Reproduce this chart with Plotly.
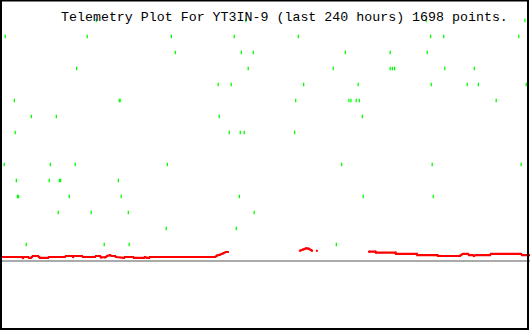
import plotly.graph_objects as go

# ---- data (hours since start of 240 h window, telemetry value) ----
title_text = "Telemetry Plot For YT3IN-9 (last 240 hours) 1698 points."

green_x = [
    43.6, 111.3, 193.0, 237.7,                                   # 15
    2.4, 39.5, 77.6, 106.1, 135.1, 195.0, 200.9, 234.9,         # 14
    79.4, 109.3, 114.7, 156.4, 176.7, 193.5,                    # 13
    34.7, 112.4, 150.9, 176.7, 177.7, 178.7, 201.4, 214.8,      # 12
    98.8, 104.7, 137.5, 162.2, 195.3, 211.6, 216.6, 238.3,      # 11
    6.5, 54.0, 54.4, 133.9, 158.0, 158.9, 161.3, 162.7, 224.7,  # 10
    14.2, 25.5, 99.3, 164.1,                                    # 9
    6.9, 103.8, 108.8, 110.6, 133.4,                            # 8
    1.9, 22.8, 34.1, 75.8, 154.7, 195.7, 236.0,                 # 6
    7.4, 22.3, 26.9, 27.4, 53.6,                                # 5
    0.6, 7.9, 8.4, 31.4, 54.9, 108.4, 164.5, 196.2,             # 4
    26.4, 41.3, 58.1, 115.1,                                    # 3
    75.3, 107.0,                                                # 2
    11.9, 47.2, 58.5, 152.3,                                    # 1
]
green_y = (
    [15] * 4 + [14] * 8 + [13] * 6 + [12] * 8 + [11] * 8 + [10] * 9 +
    [9] * 4 + [8] * 5 + [6] * 7 + [5] * 5 + [4] * 8 + [3] * 4 + [2] * 2 + [1] * 4
)

red_x = [
    0.0, 10.0, 10.4, 10.9, 12.7, 13.1, 14.0, 14.5, 14.9, 17.2, 17.7, 18.1,
    21.7, 22.2, 29.4, 29.9, 32.6, 33.1, 33.5, 37.1, 37.6, 43.0, 43.5, 45.3,
    45.7, 47.5, 48.0, 48.5, 49.8, 50.7, 52.1, 52.5, 56.1, 56.6, 60.2, 60.7,
    65.2, 65.7, 66.6, 67.5, 67.9, 97.4, 98.3, 99.6, 101.0, 102.3, 103.2,
    None,
    135.8, 137.4, 138.6, 139.7, 140.8, 141.3,
    None,
    143.5,
    None,
    167.1, 170.0, 170.3, 179.1, 179.3, 188.8, 189.0, 198.1, 198.3, 208.3,
    208.7, 209.6, 211.9, 212.4, 214.2, 214.6, 215.5, 221.9, 222.3, 235.9,
    236.4, 240.0,
]
red_y = [
    0.22, 0.22, 0.16, 0.22, 0.22, 0.16, 0.16, 0.22, 0.28, 0.28, 0.22, 0.16,
    0.16, 0.22, 0.22, 0.28, 0.28, 0.22, 0.28, 0.28, 0.22, 0.22, 0.28, 0.28,
    0.19, 0.19, 0.22, 0.28, 0.33, 0.28, 0.28, 0.22, 0.16, 0.22, 0.22, 0.16,
    0.16, 0.22, 0.16, 0.16, 0.22, 0.22, 0.31, 0.36, 0.44, 0.53, 0.53,
    None,
    0.61, 0.69, 0.76, 0.74, 0.66, 0.61,
    None,
    0.61,
    None,
    0.55, 0.55, 0.49, 0.49, 0.41, 0.41, 0.34, 0.34, 0.28, 0.28,
    0.34, 0.41, 0.41, 0.34, 0.34, 0.28, 0.34, 0.34, 0.41, 0.41,
    0.34, 0.34,
]

x_range = [0, 240]
y_range = [-4.344, 16.281]

fig = go.Figure()
fig.add_trace(go.Scatter(
    x=green_x, y=green_y, mode="markers",
    marker=dict(symbol="line-ns", size=2.5, color="#00ff00",
                line=dict(color="#00ff00", width=1.3)),
    hoverinfo="skip", showlegend=False,
))
fig.add_trace(go.Scatter(
    x=red_x, y=red_y, mode="lines+markers", connectgaps=False,
    line=dict(color="#ff0000", width=2.2),
    marker=dict(color="#ff0000", size=2, symbol="square"),
    hoverinfo="skip", showlegend=False,
))

fig.update_layout(
    width=530, height=330,
    margin=dict(l=0, r=0, t=0, b=0),
    paper_bgcolor="white", plot_bgcolor="white",
    xaxis=dict(range=x_range, visible=True, showgrid=False, zeroline=False,
               showticklabels=False, ticks="", showline=False),
    yaxis=dict(range=y_range, showgrid=False, zeroline=True,
               zerolinecolor="#aaaaaa", zerolinewidth=2,
               showticklabels=False, ticks="", showline=False),
    annotations=[dict(
        text=title_text, xref="paper", yref="paper",
        x=59 / 530, y=1 - 17 / 330, xanchor="left", yanchor="middle",
        showarrow=False, font=dict(family="Liberation Mono", size=13.3, color="black"),
    )],
    shapes=[dict(
        type="rect", xref="paper", yref="paper",
        x0=1 / 530, x1=528 / 530, y0=1 / 330, y1=1 - 0.5 / 330,
        line=dict(color="black", width=2), fillcolor="rgba(0,0,0,0)",
    )],
)

fig.write_html("out.html", config={"displayModeBar": False})
